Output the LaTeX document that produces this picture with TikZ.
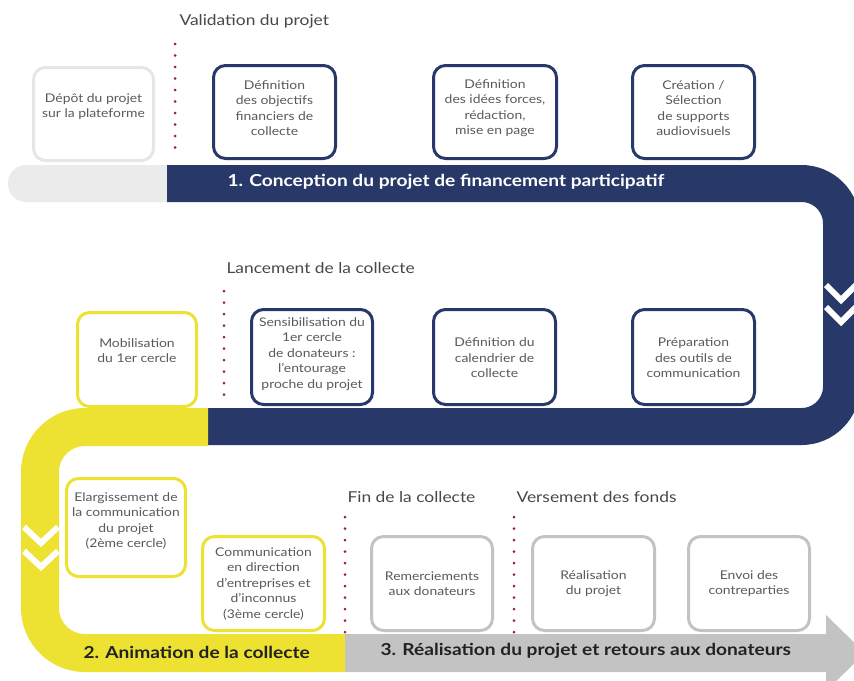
\documentclass[tikz,border=0pt]{standalone}
\usepackage{fontspec}
\setmainfont{Lato}[FakeStretch=1.16]
\definecolor{navy}{HTML}{283869}
\definecolor{yel}{HTML}{EDE131}
\definecolor{lgray}{HTML}{EBEBEB}
\definecolor{lgbox}{HTML}{E6E6E6}
\definecolor{mgray}{HTML}{C3C3C3}
\definecolor{txt}{HTML}{5A5A5A}
\definecolor{dotc}{HTML}{9E1B4A}
\definecolor{dark}{HTML}{222222}
\tikzset{
  box/.style={draw, line width=3pt, rounded corners=12pt, minimum width=122pt,
    minimum height=94pt, fill=white, inner sep=0pt},
  boxtext/.style={align=center, text=txt, inner sep=0pt,
    font=\fontsize{12}{15.5}\selectfont},
  navybox/.style={box, draw=navy},
  yelbox/.style={box, draw=yel},
  graybox/.style={box, draw=mgray},
  lightbox/.style={box, draw=lgbox},
  dotline/.style={dotc, line width=3pt, line cap=round, dash pattern=on 0pt off 11.5pt},
  phase/.style={anchor=west, text=txt!80!black, font=\fontsize{15}{18}\selectfont},
  bandtext/.style={font=\fontsize{16.5}{20}\selectfont\bfseries},
  chev/.style={white, line width=6pt, miter limit=4},
}
% #1 style, #2 name, #3 center, #4 text shift (down, pt), #5 text
\newcommand\stepbox[5]{%
  \node[#1] (#2) at (#3) {};
  \node[boxtext] (#2t) at ([yshift=-#4pt]#2.center) {#5};}
\begin{document}
\begin{tikzpicture}[x=1pt,y=-1pt]
\useasboundingbox (0,0) rectangle (854,680);
\clip (0,0) rectangle (854,680);
% bands
\fill[lgray, rounded corners=18pt] (8,165) rectangle (200,202);
\draw[navy, line width=37pt, rounded corners=40pt] (167,183.5) -- (841.5,183.5) -- (841.5,426.5) -- (208,426.5);
\draw[yel, line width=38pt, rounded corners=45pt] (208,427) -- (40,427) -- (40,653) -- (345,653);
\fill[mgray] (345,634) -- (826,634) -- (826,615) -- (865,653) -- (826,691) -- (826,672) -- (345,672) -- cycle;
% chevrons
\draw[chev] (826,285) -- (841,300) -- (856,285);
\draw[chev] (826,307) -- (841,322) -- (856,307);
\draw[chev] (24,527) -- (41,543) -- (58,527);
\draw[chev] (24,551) -- (41,567) -- (58,551);
% dotted separators
\draw[dotline] (175,44) -- (175,158);
\draw[dotline] (224,291) -- (224,405);
\draw[dotline] (345,517) -- (345,632);
\draw[dotline] (514,517) -- (514,632);
% phase labels
\node[phase] (l1) at (176,21) {Validation du projet};
\node[phase] (l2) at (223,268) {Lancement de la collecte};
\node[phase] (l3) at (344,497) {Fin de la collecte};
\node[phase] (l4) at (513,497) {Versement des fonds};
% row 1
\stepbox{lightbox, minimum width=120pt, minimum height=93pt}{b1}{93.5,114}{-7.5}{Dépôt du projet\\sur la plateforme}
\stepbox{navybox, minimum height=93pt}{b2}{274.5,112}{-4}{Définition\\des objectifs\\financiers de\\collecte}
\stepbox{navybox, minimum width=123pt, minimum height=93pt}{b3}{495,112}{-4}{Définition\\des idées forces,\\rédaction,\\mise en page}
\stepbox{navybox, minimum height=93pt}{b4}{693.5,112}{-4}{Création /\\Sélection\\de supports\\audiovisuels}
% row 2
\stepbox{yelbox, minimum width=119pt}{c1}{137,359.5}{-9}{Mobilisation\\du 1er cercle}
\stepbox{navybox, minimum width=121pt, minimum height=95pt}{c2}{312,357}{-3}{Sensibilisation du\\1er cercle\\de donateurs :\\l’entourage\\proche du projet}
\stepbox{navybox, minimum height=95pt}{c3}{494.5,357}{1}{Définition du\\calendrier de\\collecte}
\stepbox{navybox, minimum height=95pt}{c4}{693.5,357}{1}{Préparation\\des outils de\\communication}
% row 3
\stepbox{yelbox, minimum width=119pt, minimum height=98pt}{d1}{126,527.5}{-6.5}{Elargissement de\\la communication\\du projet\\(2ème cercle)}
\stepbox{yelbox}{d2}{263.5,583.5}{0}{Communication\\en direction\\d’entreprises et\\d’inconnus\\(3ème cercle)}
\stepbox{graybox, minimum width=121pt}{d3}{432,583.5}{0}{Remerciements\\aux donateurs}
\stepbox{graybox}{d4}{593.5,583.5}{0}{Réalisation\\du projet}
\stepbox{graybox, minimum width=121pt}{d5}{749,583.5}{0}{Envoi des\\contreparties}
% band labels
\node[bandtext, text=white] (t1) at (446,182) {1. Conception du projet de financement participatif};
\node[bandtext, text=dark, anchor=west] (t2) at (80,652) {2. Animation de la collecte};
\node[bandtext, text=dark, anchor=west] (t3) at (377,651) {3. Réalisation du projet et retours aux donateurs};
\end{tikzpicture}
\end{document}
